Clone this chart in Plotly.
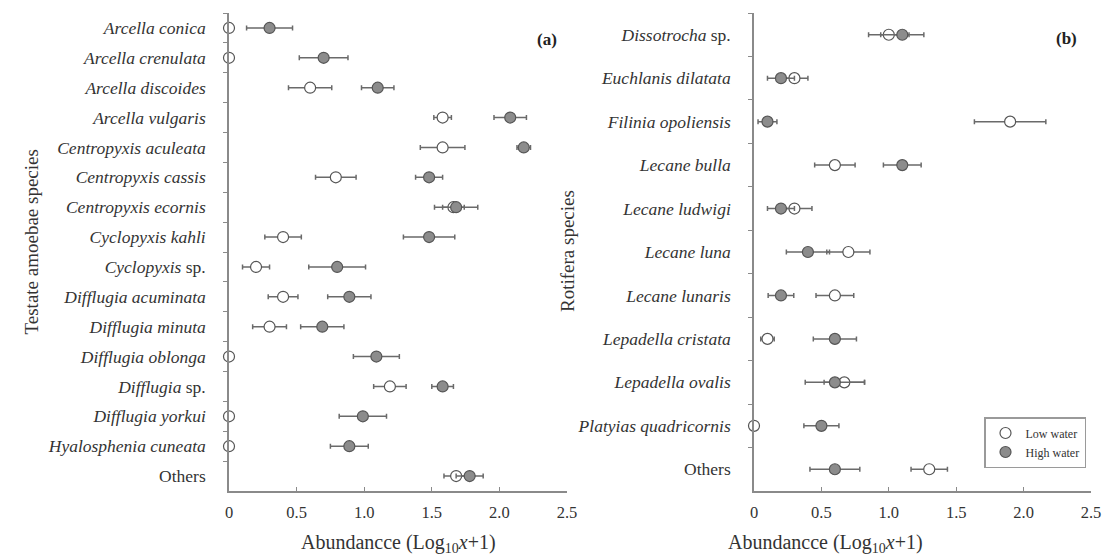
import plotly.graph_objects as go

# ---------------- Data: panel (a) Testate amoebae ----------------
species_a = [
    "<i>Arcella conica</i>", "<i>Arcella crenulata</i>", "<i>Arcella discoides</i>",
    "<i>Arcella vulgaris</i>", "<i>Centropyxis aculeata</i>", "<i>Centropyxis cassis</i>",
    "<i>Centropyxis ecornis</i>", "<i>Cyclopyxis kahli</i>", "<i>Cyclopyxis</i> sp.",
    "<i>Difflugia acuminata</i>", "<i>Difflugia minuta</i>", "<i>Difflugia oblonga</i>",
    "<i>Difflugia</i> sp.", "<i>Difflugia yorkui</i>", "<i>Hyalosphenia cuneata</i>", "Others",
]
low_a = [0, 0, 0.60, 1.58, 1.58, 0.79, 1.66, 0.40, 0.20, 0.40, 0.30, 0, 1.19, 0, 0, 1.68]
low_err_a = [0, 0, 0.16, 0.065, 0.165, 0.15, 0.08, 0.135, 0.10, 0.11, 0.125, 0, 0.12, 0, 0, 0.09]
high_a = [0.30, 0.70, 1.10, 2.08, 2.18, 1.48, 1.68, 1.48, 0.80, 0.89, 0.69, 1.09, 1.58, 0.99, 0.89, 1.78]
high_err_a = [0.17, 0.18, 0.12, 0.12, 0.05, 0.10, 0.16, 0.19, 0.21, 0.16, 0.16, 0.17, 0.08, 0.175, 0.14, 0.10]

# ---------------- Data: panel (b) Rotifera ----------------
species_b = [
    "<i>Dissotrocha</i> sp.", "<i>Euchlanis dilatata</i>", "<i>Filinia opoliensis</i>",
    "<i>Lecane bulla</i>", "<i>Lecane ludwigi</i>", "<i>Lecane luna</i>",
    "<i>Lecane lunaris</i>", "<i>Lepadella cristata</i>", "<i>Lepadella ovalis</i>",
    "<i>Platyias quadricornis</i>", "Others",
]
low_b = [1.00, 0.30, 1.90, 0.60, 0.30, 0.70, 0.60, 0.10, 0.67, 0, 1.30]
low_err_b = [0.15, 0.10, 0.265, 0.15, 0.13, 0.16, 0.14, 0.05, 0.15, 0, 0.135]
high_b = [1.10, 0.20, 0.10, 1.10, 0.20, 0.40, 0.20, 0.60, 0.60, 0.50, 0.60]
high_err_b = [0.16, 0.10, 0.07, 0.14, 0.10, 0.16, 0.095, 0.16, 0.22, 0.13, 0.185]

x_ticks = [0, 0.5, 1.0, 1.5, 2.0, 2.5]
x_ticktext = ["0", "0.5", "1.0", "1.5", "2.0", "2.5"]

FONT = "Liberation Serif"
TXT = "#333333"
ERR = "#6a6a6a"
EDGE = "#555555"
HIGH_FILL = "#8c8c8c"

fig = go.Figure()


def add_series(x, err, cats, xa, ya, fill, name, show):
    fig.add_trace(go.Scatter(
        x=x, y=cats, xaxis=xa, yaxis=ya, mode="markers", name=name,
        showlegend=show, cliponaxis=False,
        marker=dict(size=11, color=fill, line=dict(color=EDGE, width=1.2)),
        error_x=dict(type="data", array=err, visible=True, color=ERR,
                     thickness=1.5, width=2.5),
    ))


add_series(low_a, low_err_a, species_a, "x", "y", "white", "Low water", False)
add_series(high_a, high_err_a, species_a, "x", "y", HIGH_FILL, "High water", False)
add_series(low_b, low_err_b, species_b, "x2", "y2", "white", "Low water", True)
add_series(high_b, high_err_b, species_b, "x2", "y2", HIGH_FILL, "High water", True)

W, H = 1103, 558
dom_a = [229 / W, 567 / W]
dom_b = [754 / W, 1091 / W]
ydom = [1 - 491 / H, 1 - 13 / H]

xaxis_common = dict(
    range=[0, 2.5], tickvals=x_ticks, ticktext=x_ticktext, showline=True,
    linecolor="#8a8a8a", linewidth=1.5, ticks="inside", ticklen=4,
    tickcolor="#8a8a8a", showgrid=False, zeroline=False, automargin=False,
    tickfont=dict(family=FONT, size=16.5, color=TXT), ticklabelstandoff=5,
)
yaxis_common = dict(
    type="category", showline=True, linecolor="#8a8a8a",
    linewidth=1.5, ticks="outside", ticklen=4, tickcolor="#8a8a8a",
    tickson="boundaries", showgrid=False, zeroline=False, automargin=False,
    tickfont=dict(family=FONT, size=17.5, color=TXT), ticklabelstandoff=18,
)

fig.update_layout(
    template="none",
    width=W, height=H,
    margin=dict(l=0, r=0, t=0, b=0),
    paper_bgcolor="white", plot_bgcolor="white",
    font=dict(family=FONT, color=TXT),
    xaxis=dict(domain=dom_a, anchor="y", **xaxis_common),
    yaxis=dict(domain=ydom, anchor="x", categoryorder="array",
               categoryarray=species_a, range=[len(species_a) - 0.5, -0.5],
               **yaxis_common),
    xaxis2=dict(domain=dom_b, anchor="y2", **xaxis_common),
    yaxis2=dict(domain=ydom, anchor="x2", categoryorder="array",
                categoryarray=species_b, range=[len(species_b) - 0.5, -0.5],
                **yaxis_common),
    legend=dict(x=984 / W, y=1 - 417 / H, xanchor="left", yanchor="top",
                bgcolor="white", bordercolor="#9a9a9a", borderwidth=1.5,
                font=dict(family=FONT, size=12, color=TXT),
                itemwidth=30, tracegroupgap=0),
    showlegend=True,
)

yt_font = dict(family=FONT, size=19, color=TXT)
xt_font = dict(family=FONT, size=20, color=TXT)
fig.add_annotation(text="Testate amoebae species", textangle=-90, x=18 / W, y=1 - 242 / H,
                   xref="paper", yref="paper", showarrow=False, font=yt_font)
fig.add_annotation(text="Rotifera species", textangle=-90, x=568 / W, y=1 - 251 / H,
                   xref="paper", yref="paper", showarrow=False, font=yt_font)
fig.add_annotation(text="Abundancce (Log<sub>10</sub><i>x</i>+1)", x=398 / W, y=0,
                   yanchor="bottom", xref="paper", yref="paper", showarrow=False,
                   font=xt_font)
fig.add_annotation(text="Abundancce (Log<sub>10</sub><i>x</i>+1)", x=925 / W, y=0,
                   yanchor="bottom", xref="paper", yref="paper", showarrow=False,
                   font=xt_font)
fig.add_annotation(text="<b>(a)</b>", x=547 / W, y=1 - 28 / H, xref="paper", yref="paper",
                   showarrow=False, font=dict(family=FONT, size=17, color="#222"))
fig.add_annotation(text="<b>(b)</b>", x=1079 / W, y=1 - 27 / H, xref="paper", yref="paper",
                   showarrow=False, font=dict(family=FONT, size=17, color="#222"))

fig.write_html(
    "out.html",
    config={"displayModeBar": False},
    post_script="document.body.style.margin='0';document.body.style.overflow='hidden';",
)
